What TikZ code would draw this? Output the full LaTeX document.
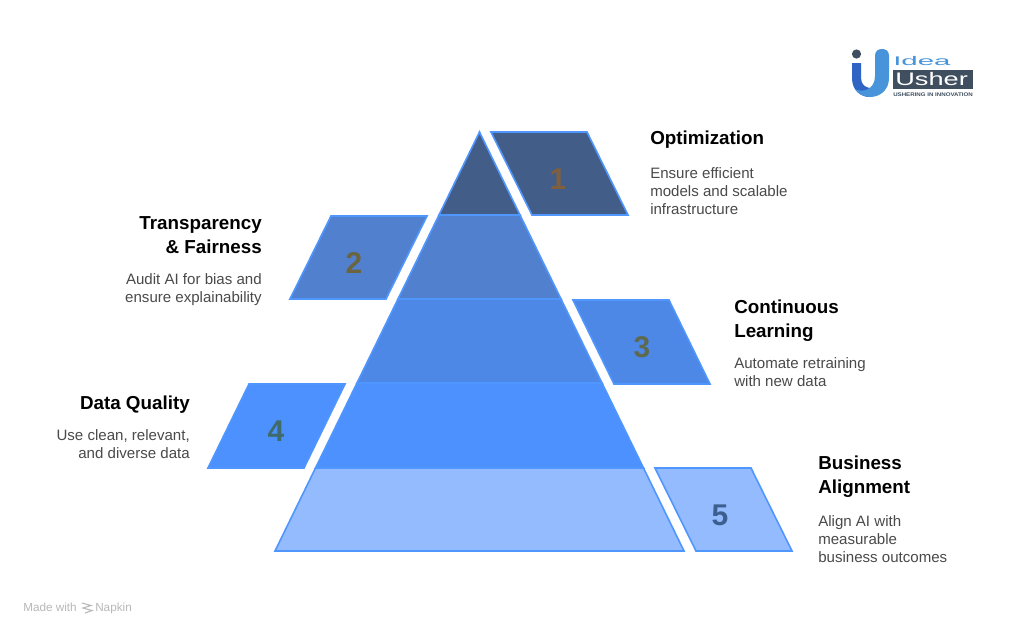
\documentclass[tikz,border=0pt]{standalone}
\usepackage{fontspec}
\setmainfont{Liberation Sans}
\definecolor{edge}{HTML}{5096FF}
\definecolor{fa}{HTML}{425E88}
\definecolor{fb}{HTML}{5080CE}
\definecolor{fc}{HTML}{4D88E6}
\definecolor{fd}{HTML}{4D91FF}
\definecolor{fe}{HTML}{95BBFF}
\definecolor{na}{HTML}{7F5F3F}
\definecolor{nb}{HTML}{6B6440}
\definecolor{nc}{HTML}{5E6A50}
\definecolor{nd}{HTML}{3F6B6B}
\definecolor{ne}{HTML}{3D5F8F}
\definecolor{bodyc}{HTML}{4A4A4A}
\definecolor{logoa}{HTML}{4794DB}
\definecolor{logob}{HTML}{2F63C4}
\definecolor{logoc}{HTML}{3F4F5F}
\tikzset{
  x=0.75pt,y=-0.75pt,
  shp/.style={draw=edge,line width=1.2pt,line join=miter},
  num/.style={font=\fontsize{22.5}{24}\selectfont\bfseries,inner sep=0pt,anchor=center},
  ttl/.style={font=\fontsize{14.1}{18}\selectfont\bfseries,inner sep=0pt,text=black},
  bdy/.style={font=\fontsize{11.3}{13.5}\selectfont,inner sep=0pt,text=bodyc},
  tl/.style={align=left,anchor=north west},
  tr/.style={align=right,anchor=north east},
  foot/.style={inner sep=0pt,anchor=base west,text=black!28,font=\fontsize{8.8}{10}\selectfont},
  logotext/.style={inner sep=0pt,anchor=west},
}
\begin{document}
\begin{tikzpicture}
\useasboundingbox (0,0) rectangle (1009,636);
\fill[white] (0,0) rectangle (1009,636);
% pyramid
\filldraw[shp,fill=fa] (479.5,132) -- (520,215) -- (439,215) -- cycle;
\filldraw[shp,fill=fb] (439,215) -- (520,215) -- (561,299) -- (398,299) -- cycle;
\filldraw[shp,fill=fc] (398,299) -- (561,299) -- (602,383) -- (357,383) -- cycle;
\filldraw[shp,fill=fd] (357,383) -- (602,383) -- (643.5,468) -- (315.5,468) -- cycle;
\filldraw[shp,fill=fe] (315.5,468) -- (643.5,468) -- (684,551) -- (275,551) -- cycle;
% tags
\filldraw[shp,fill=fa] (491,132) -- (587,132) -- (628,215) -- (532,215) -- cycle;
\filldraw[shp,fill=fb] (331,216) -- (427,216) -- (386,299) -- (290,299) -- cycle;
\filldraw[shp,fill=fc] (573,300) -- (669,300) -- (710,384) -- (614,384) -- cycle;
\filldraw[shp,fill=fd] (249,384) -- (345,384) -- (304,468) -- (208,468) -- cycle;
\filldraw[shp,fill=fe] (655,468) -- (751,468) -- (792,551) -- (696,551) -- cycle;
\node[num,text=na] (n1) at (558,179.5) {1};
\node[num,text=nb] (n2) at (354,263.5) {2};
\node[num,text=nc] (n3) at (642,347.5) {3};
\node[num,text=nd] (n4) at (276,431.5) {4};
\node[num,text=ne] (n5) at (720,515.5) {5};
% texts
\node[ttl,tl] (t1) at (650,131) {Optimization};
\node[bdy,tl] (b1) at (650,167) {Ensure efficient\\models and scalable\\infrastructure};
\node[ttl,tr] (t2) at (262,216) {Transparency\\\& Fairness};
\node[bdy,tr] (b2) at (262,273) {Audit AI for bias and\\ensure explainability};
\node[ttl,tl] (t3) at (734,300) {Continuous\\Learning};
\node[bdy,tl] (b3) at (734,357) {Automate retraining\\with new data};
\node[ttl,tr] (t4) at (190,396) {Data Quality};
\node[bdy,tr] (b4) at (190,429) {Use clean, relevant,\\and diverse data};
\node[ttl,tl] (t5) at (818,456) {Business\\Alignment};
\node[bdy,tl] (b5) at (818,515) {Align AI with\\measurable\\business outcomes};
% footer
\node[foot] (m1) at (23,611) {Made with};
\draw[black!28,line width=0.8pt] (82,603) -- (91,605.5) -- (83,608) -- (92,610.5) -- (85,613);
\node[foot] (m2) at (95,611) {Napkin};
% logo
\fill[logoc] (856.5,54) circle (4.6);
\fill[logob] (852,63) -- (861,63) -- (861,78) .. controls (861,85) and (866,88) .. (871,88) -- (878,88) -- (870,97) .. controls (860,97) and (852,90) .. (852,78) -- cycle;
\fill[logoa] (875,56) .. controls (875,51) and (878,49) .. (882,49) .. controls (886,49) and (889,51) .. (889,56) -- (889,78) .. controls (889,90) and (880,97) .. (870,97) .. controls (864,97) and (858,94) .. (855,89) .. controls (862,93) and (875,90) .. (875,76) -- cycle;
\fill[logoc] (893,70) rectangle (973,89);
\node[logotext,text=logoa,font=\fontsize{9.4}{10}\selectfont] (l1) at (893,61) {\scalebox{2.35}[1]{Idea}};
\node[logotext,text=white,font=\fontsize{13.6}{14}\selectfont] (l2) at (895,79) {\scalebox{1.5}[1]{Usher}};
\node[logotext,text=logoc,font=\fontsize{3.9}{4}\selectfont\bfseries] (l3) at (893,95) {\scalebox{1.18}[1]{USHERING IN INNOVATION}};
\end{tikzpicture}
\end{document}
